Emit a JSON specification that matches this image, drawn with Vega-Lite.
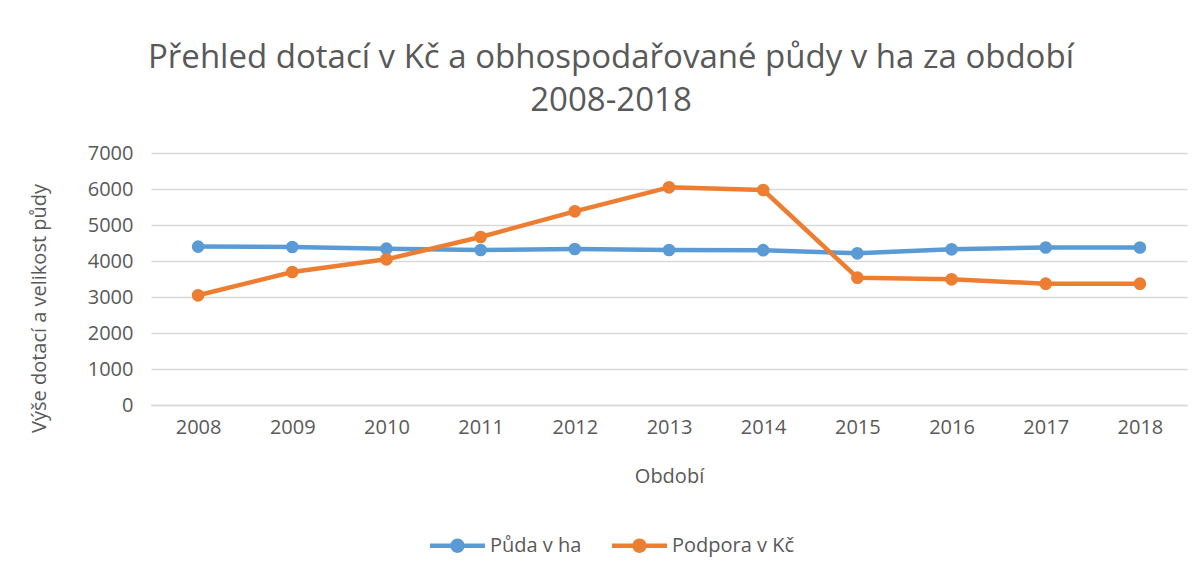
{
  "$schema": "https://vega.github.io/schema/vega-lite/v6.json",
  "autosize": {"type": "none"},
  "width": 1036,
  "height": 252,
  "padding": {"left": 151, "top": 153, "right": 16, "bottom": 172},
  "background": "white",
  "title": {
    "text": ["Přehled dotací v Kč a obhospodařované  půdy v ha za období", "2008-2018"],
    "font": "Open Sans",
    "fontSize": 33,
    "fontWeight": "normal",
    "color": "#595959",
    "anchor": "middle",
    "dx": -58,
    "offset": 25,
    "lineHeight": 43
  },
  "data": {
    "values": [
      {"rok": "2008", "serie": "Půda v ha", "hodnota": 4400},
      {"rok": "2009", "serie": "Půda v ha", "hodnota": 4389},
      {"rok": "2010", "serie": "Půda v ha", "hodnota": 4342},
      {"rok": "2011", "serie": "Půda v ha", "hodnota": 4306},
      {"rok": "2012", "serie": "Půda v ha", "hodnota": 4333},
      {"rok": "2013", "serie": "Půda v ha", "hodnota": 4306},
      {"rok": "2014", "serie": "Půda v ha", "hodnota": 4300},
      {"rok": "2015", "serie": "Půda v ha", "hodnota": 4213},
      {"rok": "2016", "serie": "Půda v ha", "hodnota": 4324},
      {"rok": "2017", "serie": "Půda v ha", "hodnota": 4375},
      {"rok": "2018", "serie": "Půda v ha", "hodnota": 4375},
      {"rok": "2008", "serie": "Podpora v Kč", "hodnota": 3047},
      {"rok": "2009", "serie": "Podpora v Kč", "hodnota": 3694},
      {"rok": "2010", "serie": "Podpora v Kč", "hodnota": 4046},
      {"rok": "2011", "serie": "Podpora v Kč", "hodnota": 4667},
      {"rok": "2012", "serie": "Podpora v Kč", "hodnota": 5380},
      {"rok": "2013", "serie": "Podpora v Kč", "hodnota": 6046},
      {"rok": "2014", "serie": "Podpora v Kč", "hodnota": 5972},
      {"rok": "2015", "serie": "Podpora v Kč", "hodnota": 3537},
      {"rok": "2016", "serie": "Podpora v Kč", "hodnota": 3491},
      {"rok": "2017", "serie": "Podpora v Kč", "hodnota": 3370},
      {"rok": "2018", "serie": "Podpora v Kč", "hodnota": 3370}
    ]
  },
  "mark": {
    "type": "line",
    "strokeWidth": 4.5,
    "strokeCap": "round",
    "strokeJoin": "round",
    "point": {"filled": true, "size": 160}
  },
  "encoding": {
    "x": {
      "field": "rok",
      "type": "ordinal",
      "scale": {"paddingInner": 0, "paddingOuter": 0.5},
      "axis": {
        "title": "Období",
        "titleFont": "Open Sans",
        "titleFontSize": 20,
        "titleFontWeight": "normal",
        "titleColor": "#595959",
        "titleY": 71,
        "titleBaseline": "middle",
        "labelFont": "Open Sans",
        "labelFontSize": 20,
        "labelColor": "#595959",
        "labelAngle": 0,
        "labelPadding": 12,
        "ticks": false,
        "domainColor": "#D9D9D9",
        "domainWidth": 1.5,
        "grid": false
      }
    },
    "y": {
      "field": "hodnota",
      "type": "quantitative",
      "scale": {"domain": [0, 7000]},
      "axis": {
        "title": "Výše dotací a velikost půdy",
        "titleFont": "Open Sans",
        "titleFontSize": 20,
        "titleFontWeight": "normal",
        "titleColor": "#595959",
        "titleX": -112,
        "titleY": 155,
        "titleAngle": 270,
        "titleBaseline": "middle",
        "titleAlign": "center",
        "values": [0, 1000, 2000, 3000, 4000, 5000, 6000, 7000],
        "format": "d",
        "labelFont": "Open Sans",
        "labelFontSize": 20,
        "labelColor": "#595959",
        "labelPadding": 18,
        "ticks": false,
        "domain": false,
        "gridColor": "#D9D9D9",
        "gridWidth": 1.5
      }
    },
    "color": {
      "field": "serie",
      "type": "nominal",
      "sort": ["Půda v ha", "Podpora v Kč"],
      "scale": {"domain": ["Půda v ha", "Podpora v Kč"], "range": ["#5B9BD5", "#ED7D31"]},
      "legend": {
        "title": null,
        "orient": "none",
        "direction": "horizontal",
        "legendX": 279,
        "legendY": 365,
        "symbolType": "M-1,-0.08 L1,-0.08 L1,0.08 L-1,0.08 Z M-0.26,0 A0.26,0.26 0 1,1 0.26,0 A0.26,0.26 0 1,1 -0.26,0 Z",
        "symbolSize": 3025,
        "symbolStrokeWidth": 0,
        "labelFont": "Open Sans",
        "labelFontSize": 20,
        "labelColor": "#595959",
        "labelOffset": 5,
        "columnPadding": 30,
        "encode": {
          "symbols": {"update": {"fill": {"scale": "color", "field": "value"}, "strokeWidth": {"value": 0}, "opacity": {"value": 1}}}
        }
      }
    }
  },
  "config": {
    "view": {"stroke": null}
  }
}
